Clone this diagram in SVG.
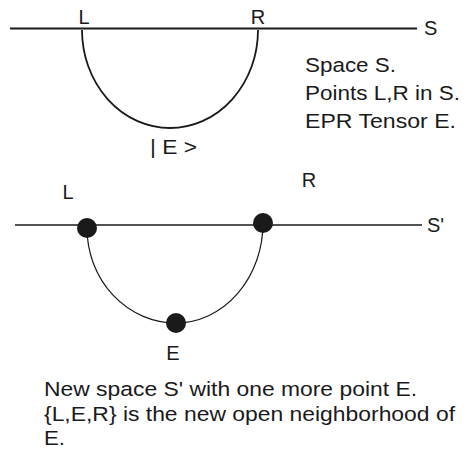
<svg xmlns="http://www.w3.org/2000/svg" width="467" height="457" viewBox="0 0 467 457">
<style>
text{font-family:"Liberation Sans",Arial,sans-serif;fill:#1a1a1a}
.lbl{font-size:20px}
.txt{font-size:20.5px}
.ln{stroke:#1a1a1a;fill:none}
.dot{fill:#1a1a1a}
</style>
<rect width="467" height="457" fill="#fff"/>
<g id="connectors">
<line class="ln" x1="10" y1="28.5" x2="417" y2="28.5" stroke-width="2"/>
<path class="ln" d="M82,30 A88,98 0 0 0 258,30" stroke-width="1.8"/>
<line class="ln" x1="15" y1="225" x2="422" y2="225" stroke-width="1.5"/>
<path class="ln" d="M87,228 A89,95 0 0 0 176,323 A87,100 0 0 0 263,223" stroke-width="1.2"/>
</g>
<g id="top-labels">
<text class="lbl" x="84" y="24" text-anchor="middle">L</text>
<text class="lbl" x="258" y="24" text-anchor="middle">R</text>
<text class="lbl" x="424" y="35">S</text>
<text class="lbl" x="150" y="154" textLength="47" lengthAdjust="spacingAndGlyphs">| E &gt;</text>
</g>
<g id="top-caption">
<text class="txt" x="305" y="72" textLength="91" lengthAdjust="spacingAndGlyphs">Space S.</text>
<text class="txt" x="305" y="100" textLength="155" lengthAdjust="spacingAndGlyphs">Points L,R in S.</text>
<text class="txt" x="305" y="128" textLength="151" lengthAdjust="spacingAndGlyphs">EPR Tensor E.</text>
</g>
<g id="node-L"><circle class="dot" cx="87" cy="228" r="10"/><text class="lbl" x="68" y="199" text-anchor="middle">L</text></g>
<g id="node-R"><circle class="dot" cx="263" cy="223" r="10"/><text class="lbl" x="309" y="187" text-anchor="middle">R</text></g>
<g id="node-E"><circle class="dot" cx="176" cy="323" r="10"/><text class="lbl" x="173" y="360" text-anchor="middle">E</text></g>
<text class="lbl" x="427" y="232">S'</text>
<g id="bottom-caption">
<text class="txt" x="44" y="396" textLength="373" lengthAdjust="spacingAndGlyphs">New space S' with one more point E.</text>
<text class="txt" x="44" y="421" textLength="411" lengthAdjust="spacingAndGlyphs">{L,E,R} is the new open neighborhood of</text>
<text class="txt" x="44" y="445" textLength="21" lengthAdjust="spacingAndGlyphs">E.</text>
</g>
</svg>
